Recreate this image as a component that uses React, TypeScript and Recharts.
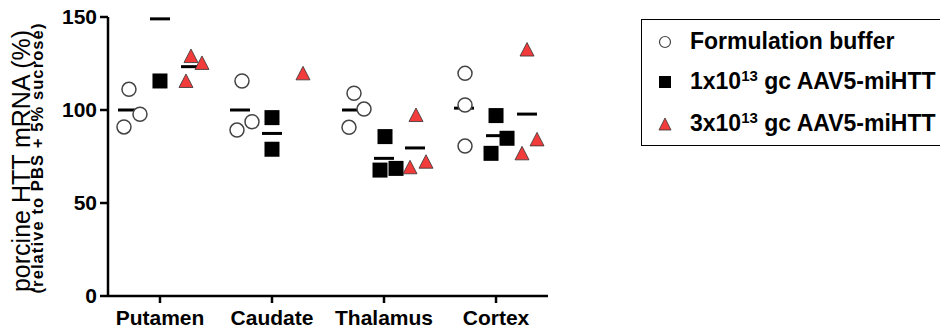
import React from 'react';
import { ScatterChart, Scatter, XAxis, YAxis, Legend } from 'recharts';

// values (% of PBS + 5% sucrose)
const categories = ['Putamen', 'Caudate', 'Thalamus', 'Cortex'];
const bufferValues = [[111.1, 97.7, 90.9], [115.6, 89.2, 93.7], [109, 100.5, 90.7], [119.7, 102.7, 80.6]];
const lowDoseValues = [[115.6], [95.9, 78.9], [85.7, 67.7, 68.6], [97, 84.8, 76.7]];
const highDoseValues = [[129, 125.3, 115.6], [119.7], [97.3, 69.2, 72.2], [132.5, 84.2, 76.7]];
const bufferMeans = [100, 100, 100, 101];
const lowDoseMeans = [149, 87.4, 74, 86.2];
const highDoseMeans: (number | null)[] = [123.3, null, 79.6, 97.8];
const yTicks = [0, 50, 100, 150];

// horizontal layout of the dot columns (pixels inside one category)
const CAT_PX = 112;
const groupOffset = [-32, 0, 31];
const bufferJitter = [[1, 12, -4], [2, -3, 12], [2, 12, -3], [1, 1, 1]];
const lowDoseJitter = [[0], [0, 0], [1, -4, 12], [0, 11, -5]];
const highDoseJitter = [[0, 11, -5], [0], [1, -5, 11], [0, 10, -5]];

const FONT = '"Liberation Sans", Arial, sans-serif';
const RED = '#f23b3b';

const toPoints = (values: number[][], jitter: number[][], group: number) =>
  values.flatMap((vals, i) =>
    vals.map((v, j) => ({ x: i + (groupOffset[group] + jitter[i][j]) / CAT_PX, y: v, cat: categories[i] }))
  );

const toMeans = (means: (number | null)[], group: number) =>
  means
    .map((m, i) => (m == null ? null : { x: i + groupOffset[group] / CAT_PX, y: m, cat: categories[i] }))
    .filter(Boolean) as { x: number; y: number; cat: string }[];

const bufferPoints = toPoints(bufferValues, bufferJitter, 0);
const lowDosePoints = toPoints(lowDoseValues, lowDoseJitter, 1);
const highDosePoints = toPoints(highDoseValues, highDoseJitter, 2);
const meanPoints = [...toMeans(bufferMeans, 0), ...toMeans(lowDoseMeans, 1), ...toMeans(highDoseMeans, 2)];

const CircleShape = (p: any) => <circle cx={p.cx} cy={p.cy} r={7} fill="#fff" stroke="#444" strokeWidth={1.5} />;
const SquareShape = (p: any) => <rect x={p.cx - 7.5} y={p.cy - 7.5} width={15} height={15} fill="#000" />;
const TriangleShape = (p: any) => (
  <polygon
    points={`${p.cx},${p.cy - 7} ${p.cx + 7},${p.cy + 6.5} ${p.cx - 7},${p.cy + 6.5}`}
    fill={RED}
    stroke="#333"
    strokeWidth={0.8}
  />
);
const MeanShape = (p: any) => <line x1={p.cx - 10} x2={p.cx + 10} y1={p.cy} y2={p.cy} stroke="#000" strokeWidth={3} />;

const supStyle = { fontSize: 15, verticalAlign: 8, lineHeight: 0 };
const legendRows = [
  { key: 'buf', label: <>Formulation buffer</>, icon: <circle cx={8} cy={8} r={5.5} fill="#fff" stroke="#444" strokeWidth={1.2} /> },
  {
    key: 'low',
    label: <>1x10<sup style={supStyle}>13</sup> gc AAV5-miHTT</>,
    icon: <rect x={2} y={2} width={12} height={12} fill="#000" />,
  },
  {
    key: 'high',
    label: <>3x10<sup style={supStyle}>13</sup> gc AAV5-miHTT</>,
    icon: <polygon points="8,2 14,14 2,14" fill={RED} stroke="#333" strokeWidth={0.8} />,
  },
];
const legendRowCenters = [21.5, 61.5, 103.5];

const LegendBox = () => (
  <div style={{ position: 'relative', width: 320, height: 127, border: '1.5px solid #000', boxSizing: 'border-box', fontFamily: FONT }}>
    {legendRows.map((r, i) => (
      <div
        key={r.key}
        style={{ position: 'absolute', left: 15, top: legendRowCenters[i] - 16, height: 32, display: 'flex', alignItems: 'center', whiteSpace: 'nowrap' }}
      >
        <svg width={16} height={16} style={{ marginRight: 17 }}>{r.icon}</svg>
        <span style={{ fontSize: 23, fontWeight: 'bold', color: '#000' }}>{r.label}</span>
      </div>
    ))}
  </div>
);

const YTitle = () => (
  <g fontFamily={FONT} fill="#000">
    <text transform="translate(30,161) rotate(-90)" textAnchor="middle" fontSize={25}>
      porcine HTT mRNA (%)
    </text>
    <text transform="translate(43,158) rotate(-90)" textAnchor="middle" fontSize={16.5} fontWeight="bold" letterSpacing={1.1}>
      (relative to PBS + 5% sucrose)
    </text>
  </g>
);

const axisStroke = { stroke: '#000', strokeWidth: 2.5 };
const tickStyle = { fontSize: 21, fontWeight: 'bold', fill: '#000', fontFamily: FONT };

export default function App() {
  return (
    <div style={{ position: 'absolute', left: 0, top: 0, width: 940, height: 329, overflow: 'hidden', background: '#fff' }}>
      <ScatterChart width={940} height={329} margin={{ top: 17, right: 392, bottom: 3, left: 48 }}>
        <XAxis
          dataKey="x"
          type="number"
          domain={[-0.464, 3.464]}
          ticks={[0, 1, 2, 3]}
          interval={0}
          tickFormatter={(v: number) => categories[Math.round(v)]}
          axisLine={axisStroke}
          tickLine={axisStroke}
          tickSize={7}
          tickMargin={7}
          tick={tickStyle}
          height={30}
          allowDataOverflow
        />
        <YAxis
          dataKey="y"
          type="number"
          domain={[0, 150]}
          ticks={yTicks}
          interval={0}
          axisLine={axisStroke}
          tickLine={axisStroke}
          tickSize={8}
          tickMargin={3}
          tick={tickStyle}
          width={60}
          label={{ content: () => <YTitle /> }}
          allowDataOverflow
        />
        <Legend
          layout="vertical"
          align="center"
          verticalAlign="middle"
          content={() => <LegendBox />}
          wrapperStyle={{ left: 641, top: 19, width: 320, height: 127 }}
        />
        <Scatter name="mean" data={meanPoints} shape={MeanShape} isAnimationActive={false} legendType="none" />
        <Scatter name="Formulation buffer" data={bufferPoints} shape={CircleShape} isAnimationActive={false} />
        <Scatter name="1x10^13 gc AAV5-miHTT" data={lowDosePoints} shape={SquareShape} isAnimationActive={false} />
        <Scatter name="3x10^13 gc AAV5-miHTT" data={highDosePoints} shape={TriangleShape} isAnimationActive={false} />
      </ScatterChart>
    </div>
  );
}
